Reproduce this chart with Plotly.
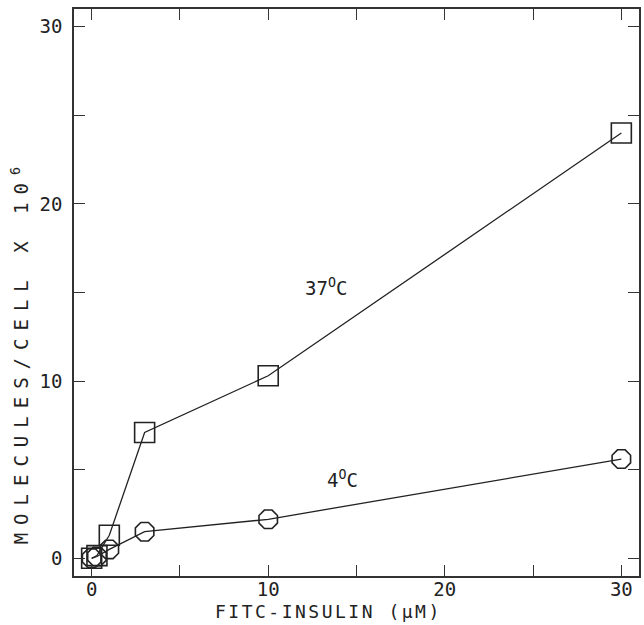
import plotly.graph_objects as go

# Data
conc_37 = [0, 0.3, 1, 3, 10, 30]
mol_37 = [0.0, 0.15, 1.3, 7.1, 10.3, 24.0]
conc_4 = [0, 0.3, 1, 3, 10, 30]
mol_4 = [0.0, 0.1, 0.5, 1.5, 2.2, 5.6]

x_ticks = [0, 10, 20, 30]
y_ticks = [0, 10, 20, 30]

x_title = "FITC-INSULIN (μM)"
y_title = "MOLECULES/CELL X 10<sup>6</sup>"

FONT = "DejaVu Sans Mono"
INK = "#222222"

fig = go.Figure()
fig.add_trace(go.Scatter(
    x=conc_37, y=mol_37, mode="lines+markers",
    line=dict(color=INK, width=1.3),
    marker=dict(symbol="square-open", size=20, color=INK, line=dict(width=1.6, color=INK)),
    showlegend=False, cliponaxis=False,
))
fig.add_trace(go.Scatter(
    x=conc_4, y=mol_4, mode="lines+markers",
    line=dict(color=INK, width=1.3),
    marker=dict(symbol="octagon-open", size=20, color=INK, line=dict(width=1.6, color=INK)),
    showlegend=False, cliponaxis=False,
))

fig.add_annotation(x=13.3, y=15.3, text="37<sup>O</sup>C", showarrow=False,
                   font=dict(family=FONT, size=19, color=INK))
fig.add_annotation(x=14.2, y=4.5, text="4<sup>O</sup>C", showarrow=False,
                   font=dict(family=FONT, size=19, color=INK))

# axis titles placed as paper annotations to match the reference offsets
fig.add_annotation(xref="paper", yref="paper", x=0.45, y=-0.062, yanchor="middle",
                   text='<span style="letter-spacing:2.5px">' + x_title + '</span>',
                   showarrow=False, font=dict(family=FONT, size=18, color=INK))
fig.add_annotation(xref="paper", yref="paper", x=-0.095, y=0.395, textangle=-90,
                   xanchor="center", yanchor="middle",
                   text='<span style="letter-spacing:8px">' + y_title + '</span>',
                   showarrow=False, font=dict(family=FONT, size=19, color=INK))

axis_common = dict(
    showline=True, linecolor="#333333", linewidth=1.5, mirror="allticks",
    ticks="inside", ticklen=11, tickwidth=1.3, tickcolor="#333333",
    showgrid=False, zeroline=False,
    tickfont=dict(family=FONT, size=19, color=INK),
    minor=dict(ticks="inside", ticklen=11, tickwidth=1.3, tickcolor="#333333", dtick=5),
)

fig.update_xaxes(range=[-1, 31], tickvals=x_ticks, ticktext=[str(v) for v in x_ticks],
                 ticklabelstandoff=-5, **axis_common)
fig.update_yaxes(range=[-1, 31], tickvals=y_ticks, ticktext=[str(v) for v in y_ticks],
                 ticklabelstandoff=6, **axis_common)

fig.update_layout(
    width=644, height=625,
    margin=dict(l=74, r=3, t=9, b=49),
    paper_bgcolor="white", plot_bgcolor="white",
)

fig.write_html("out.html")
